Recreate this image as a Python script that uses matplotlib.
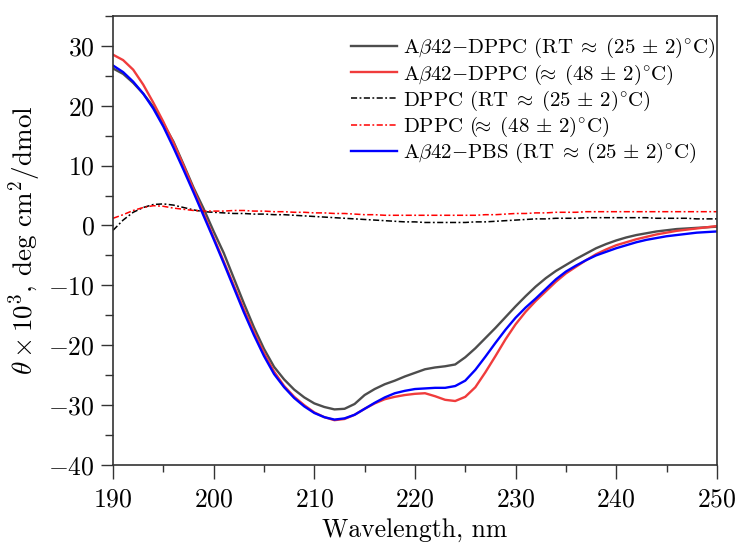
import numpy as np
import matplotlib
matplotlib.use("Agg")
import matplotlib.pyplot as plt
from matplotlib.ticker import MultipleLocator

plt.rcParams['font.family'] = 'serif'
plt.rcParams['font.serif'] = ['cmr10']
plt.rcParams['mathtext.fontset'] = 'cm'
plt.rcParams['axes.formatter.use_mathtext'] = True
plt.rcParams['axes.unicode_minus'] = True

wavelength = np.arange(190, 251)

abeta_dppc_rt = [26.2, 25.3, 23.8, 22.0, 19.8, 17.0, 14.0, 10.2, 6.3, 2.8,
                 -1.0, -4.6, -8.8, -13.0, -17.0, -20.6, -23.6, -25.7, -27.4, -28.7,
                 -29.7, -30.3, -30.7, -30.6, -29.8, -28.3, -27.3, -26.5, -25.9, -25.2,
                 -24.6, -24.0, -23.7, -23.5, -23.2, -22.0, -20.5, -18.8, -17.1, -15.3,
                 -13.5, -11.8, -10.2, -8.8, -7.6, -6.6, -5.6, -4.7, -3.8, -3.1,
                 -2.5, -2.0, -1.6, -1.3, -1.0, -0.8, -0.6, -0.5, -0.4, -0.3, -0.2]

abeta_dppc_48 = [28.5, 27.6, 26.0, 23.5, 20.5, 17.3, 13.8, 10.0, 6.0, 2.0,
                 -2.0, -6.0, -10.0, -14.0, -17.8, -21.3, -24.4, -26.8, -28.6, -30.0,
                 -31.2, -32.0, -32.5, -32.3, -31.6, -30.6, -29.7, -29.0, -28.6, -28.3,
                 -28.1, -28.0, -28.5, -29.1, -29.3, -28.6, -27.0, -24.5, -21.8, -19.0,
                 -16.5, -14.4, -12.6, -11.0, -9.4, -8.0, -6.9, -5.8, -4.8, -4.0,
                 -3.3, -2.8, -2.3, -1.9, -1.5, -1.2, -0.9, -0.7, -0.5, -0.3, -0.1]

dppc_rt = [-0.8, 0.9, 2.2, 3.0, 3.5, 3.6, 3.4, 3.0, 2.6, 2.3,
           2.2, 2.1, 2.0, 2.0, 1.9, 1.9, 1.8, 1.8, 1.7, 1.6,
           1.5, 1.4, 1.3, 1.2, 1.1, 1.0, 0.9, 0.8, 0.7, 0.6,
           0.6, 0.5, 0.5, 0.5, 0.5, 0.5, 0.6, 0.6, 0.7, 0.8,
           0.9, 1.0, 1.1, 1.1, 1.2, 1.2, 1.2, 1.3, 1.3, 1.3,
           1.3, 1.3, 1.3, 1.3, 1.2, 1.2, 1.2, 1.2, 1.1, 1.1, 1.1]

dppc_48 = [1.2, 1.8, 2.5, 3.0, 3.3, 3.2, 2.9, 2.7, 2.5, 2.4,
           2.4, 2.4, 2.5, 2.5, 2.4, 2.4, 2.3, 2.3, 2.2, 2.2,
           2.1, 2.1, 2.0, 2.0, 1.9, 1.8, 1.8, 1.7, 1.7, 1.7,
           1.7, 1.7, 1.7, 1.7, 1.7, 1.7, 1.7, 1.8, 1.8, 1.9,
           2.0, 2.0, 2.1, 2.1, 2.2, 2.2, 2.2, 2.3, 2.3, 2.3,
           2.3, 2.3, 2.3, 2.3, 2.3, 2.3, 2.3, 2.3, 2.3, 2.3, 2.3]

abeta_pbs_rt = [26.7, 25.6, 24.0, 22.0, 19.5, 16.5, 13.0, 9.3, 5.5, 1.6,
                -2.3, -6.3, -10.4, -14.5, -18.3, -21.8, -24.8, -27.0, -28.8, -30.2,
                -31.3, -32.0, -32.4, -32.2, -31.6, -30.6, -29.6, -28.7, -28.0, -27.6,
                -27.3, -27.2, -27.1, -27.1, -26.8, -25.9, -24.1, -21.9, -19.6, -17.4,
                -15.4, -13.7, -12.2, -10.6, -9.0, -7.7, -6.7, -5.8, -5.0, -4.4,
                -3.8, -3.3, -2.8, -2.4, -2.1, -1.8, -1.6, -1.4, -1.2, -1.1, -1.0]

labels = [r'A$\beta$42$-$DPPC (RT$\;\approx\;(25\,\pm\,2)^{\circ}$C)',
          r'A$\beta$42$-$DPPC ($\!\!\approx\;(48\,\pm\,2)^{\circ}$C)',
          r'DPPC (RT$\;\approx\;(25\,\pm\,2)^{\circ}$C)',
          r'DPPC ($\!\!\approx\;(48\,\pm\,2)^{\circ}$C)',
          r'A$\beta$42$-$PBS (RT$\;\approx\;(25\,\pm\,2)^{\circ}$C)']

fig = plt.figure(figsize=(7.39, 5.44), dpi=100)
ax = fig.add_axes([0.153, 0.145, 0.817, 0.826])

dd = (0, (4, 1.6, 1.2, 1.6))
ax.plot(wavelength, abeta_dppc_rt, color='#4d4d4d', lw=1.7, label=labels[0])
ax.plot(wavelength, abeta_dppc_48, color='#f03c3c', lw=1.7, label=labels[1])
ax.plot(wavelength, dppc_rt, color='black', lw=1.1, ls=dd, label=labels[2])
ax.plot(wavelength, dppc_48, color='#ff0000', lw=1.1, ls=dd, label=labels[3])
ax.plot(wavelength, abeta_pbs_rt, color='#0000ff', lw=1.7, label=labels[4])

ax.set_xlim(190, 250)
ax.set_ylim(-40, 35)
ax.xaxis.set_major_locator(MultipleLocator(10))
ax.xaxis.set_minor_locator(MultipleLocator(5))
ax.yaxis.set_major_locator(MultipleLocator(10))
ax.yaxis.set_minor_locator(MultipleLocator(5))
ax.tick_params(axis='both', which='both', direction='out', labelsize=18.5, width=1.0, color='#333333')
ax.tick_params(axis='x', which='major', length=10, pad=6)
ax.tick_params(axis='x', which='minor', length=5)
ax.tick_params(axis='y', which='major', length=9, pad=4)
ax.tick_params(axis='y', which='minor', length=6)
for s in ax.spines.values():
    s.set_linewidth(1.2)
    s.set_color('#333333')

ax.set_xlabel('Wavelength, nm', fontsize=18.5, labelpad=5)
ax.set_ylabel(r'$\theta\times10^3$, deg cm$^2$/dmol', fontsize=19.5, labelpad=4)

ax.legend(loc='upper right', bbox_to_anchor=(1.012, 0.973), frameon=False, fontsize=15,
          handlelength=2.2, handletextpad=0.3, labelspacing=0.1, borderaxespad=0.0)

fig.savefig('out.png', dpi=100)
